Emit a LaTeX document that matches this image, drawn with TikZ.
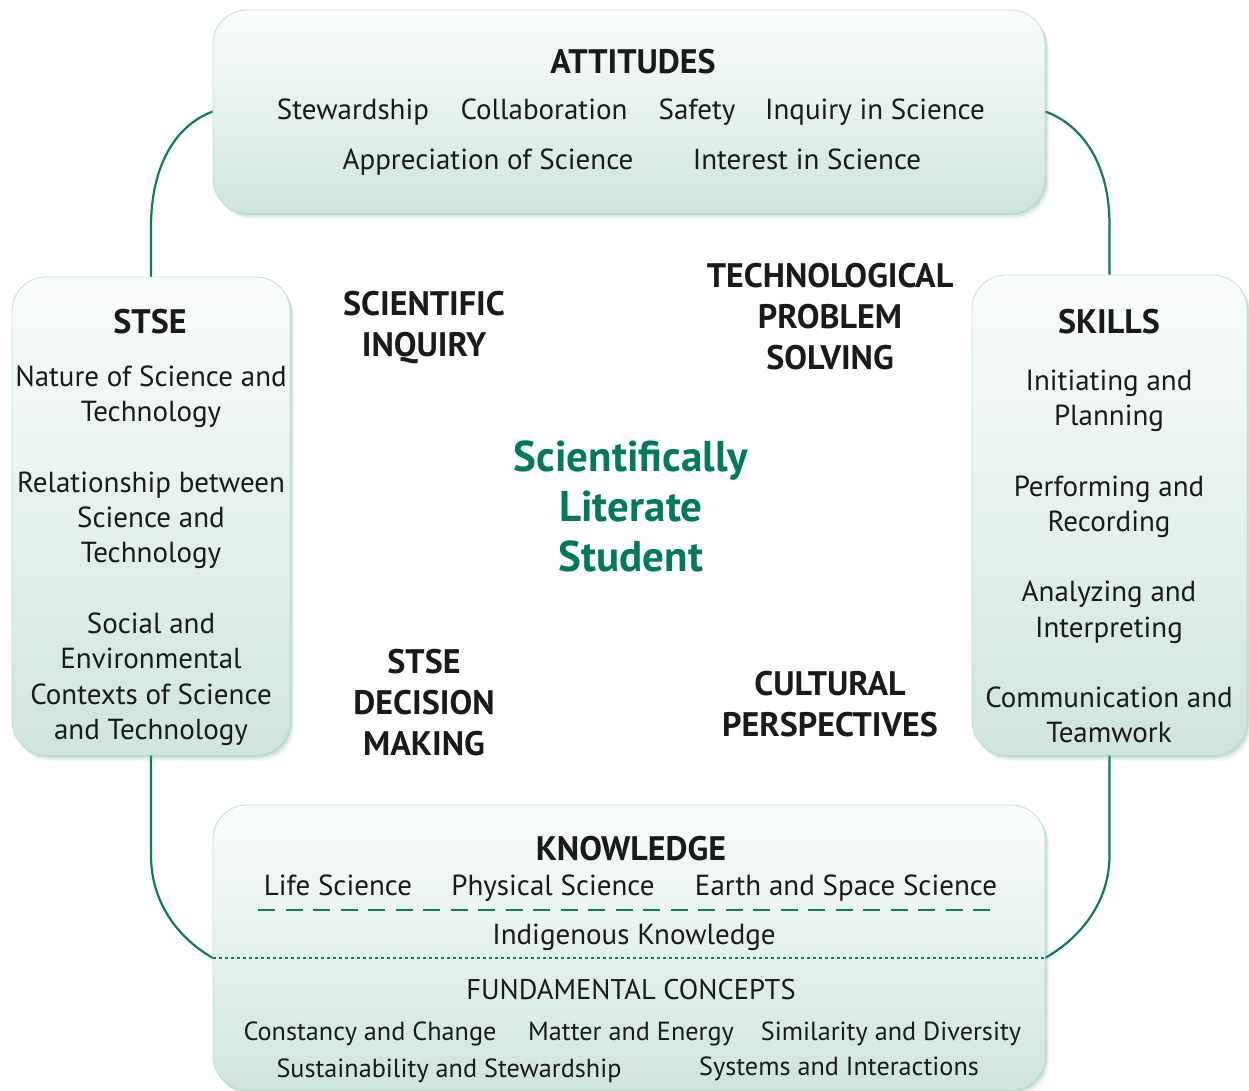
\documentclass[tikz,border=0pt]{standalone}
\usepackage{fontspec}
\setmainfont{PT Sans}
\usetikzlibrary{calc}
\definecolor{lineg}{HTML}{0B7D62}
\definecolor{txtg}{HTML}{007A5A}
\definecolor{txt}{HTML}{1A1A1A}
\definecolor{boxtop}{HTML}{FAFCFB}
\definecolor{boxbot}{HTML}{CFE5DE}
\definecolor{boxedge}{HTML}{C2E0D7}
\definecolor{shade}{HTML}{4FA88F}
\begin{document}
\begin{tikzpicture}[x=1pt,y=-1pt,
  box/.style={rectangle, rounded corners=34pt, draw=boxedge, line width=0.8pt,
    top color=boxtop, bottom color=boxbot, inner sep=0pt,
    preaction={fill=shade, opacity=0.22, transform canvas={shift={(1.5pt,-2pt)}}},
    preaction={fill=shade, opacity=0.14, transform canvas={shift={(3pt,-4pt)}}},
    preaction={fill=shade, opacity=0.08, transform canvas={shift={(4.5pt,-6pt)}}}},
  loopline/.style={draw=lineg, line width=2.2pt},
  t/.style={anchor=base, inner sep=0pt, text=txt, font=\fontsize{29}{34}\selectfont},
  ts/.style={t, font=\fontsize{26.2}{31}\selectfont},
  h/.style={anchor=base, inner sep=0pt, text=txt, font=\bfseries\fontsize{34}{38}\selectfont},
  ctr/.style={anchor=base, inner sep=0pt, text=txtg, font=\bfseries\fontsize{43}{50}\selectfont}]
\useasboundingbox (0,0) rectangle (1249,1091);
\fill[white] (0,0) rectangle (1249,1091);

\path (629,111.5) coordinate (topc) (151,516) coordinate (stsec)
      (1109.5,515) coordinate (skillc) (629,947.5) coordinate (knowc);
\path (213,958) coordinate (kl) (1045,958) coordinate (kr);

% invisible anchors of the boxes for the loop
\node[minimum width=832pt, minimum height=203pt, inner sep=0pt] (top) at (topc) {};
\node[minimum width=278pt, minimum height=478pt, inner sep=0pt] (stse) at (stsec) {};
\node[minimum width=275pt, minimum height=480pt, inner sep=0pt] (skills) at (skillc) {};
\node[minimum width=832pt, minimum height=285pt, inner sep=0pt] (know) at (knowc) {};

% loop connectors
\draw[loopline] (top.west) .. controls +(-38,14) and +(0,-60) .. ($(stse.north)+(0,-50)$) -- (stse.north);
\draw[loopline] (top.east) .. controls +(38,14) and +(0,-60) .. ($(skills.north)+(0,-50)$) -- (skills.north);
\draw[loopline] (stse.south) -- ++(0,100) .. controls +(0,50) and +(-32,-18) .. (kl);
\draw[loopline] (skills.south) -- ++(0,100) .. controls +(0,50) and +(32,-18) .. (kr);

% visible boxes
\node[box, minimum width=832pt, minimum height=203pt] (topbox) at (topc) {};
\node[box, minimum width=278pt, minimum height=478pt] (stsebox) at (stsec) {};
\node[box, minimum width=275pt, minimum height=480pt] (skillsbox) at (skillc) {};
\node[box, minimum width=832pt, minimum height=285pt] (knowbox) at (knowc) {};

% dividers in knowledge box
\path (258,910) coordinate (dl) (998,910) coordinate (dr);
\draw[lineg, line width=1.4pt, dash pattern=on 17pt off 10.5pt] (dl) -- (dr);
\draw[lineg, line width=1.1pt, dash pattern=on 3pt off 3pt] (kl) -- (kr);

% ATTITUDES
\node[h] (att) at (633,74) {ATTITUDES};
\node[t] (a1) at (353,120) {Stewardship};
\node[t] (a2) at (544,120) {Collaboration};
\node[t] (a3) at (697,120) {Safety};
\node[t] (a4) at (875,120) {Inquiry in Science};
\node[t] (a5) at (488,170) {Appreciation of Science};
\node[t] (a6) at (807,170) {Interest in Science};

% STSE
\node[h] (stseh) at (150,333) {STSE};
\node[t] (s1) at (151,386) {Nature of Science and};
\node[t] (s2) at (151,421) {Technology};
\node[t] (s3) at (151,492) {Relationship between};
\node[t] (s4) at (151,527) {Science and};
\node[t] (s5) at (151,562) {Technology};
\node[t] (s6) at (151,633) {Social and};
\node[t] (s7) at (151,668) {Environmental};
\node[t] (s8) at (151,704) {Contexts of Science};
\node[t] (s9) at (151,739) {and Technology};

% SKILLS
\node[h] (skh) at (1109,333) {SKILLS};
\node[t] (k1) at (1109,390) {Initiating and};
\node[t] (k2) at (1109,425) {Planning};
\node[t] (k3) at (1109,496) {Performing and};
\node[t] (k4) at (1109,531) {Recording};
\node[t] (k5) at (1109,601) {Analyzing and};
\node[t] (k6) at (1109,637) {Interpreting};
\node[t] (k7) at (1109,707) {Communication and};
\node[t] (k8) at (1109,742) {Teamwork};

% middle labels
\node[h] (m1) at (424,315) {SCIENTIFIC};
\node[h] (m2) at (424,356) {INQUIRY};
\node[h] (m3) at (830,287) {TECHNOLOGICAL};
\node[h] (m4) at (830,328) {PROBLEM};
\node[h] (m5) at (830,369) {SOLVING};
\node[h] (m6) at (424,673) {STSE};
\node[h] (m7) at (424,714) {DECISION};
\node[h] (m8) at (424,755) {MAKING};
\node[h] (m9) at (830,695) {CULTURAL};
\node[h] (m10) at (830,736) {PERSPECTIVES};

% centre
\node[ctr] (c1) at (631,471) {Scientifically};
\node[ctr] (c2) at (631,521) {Literate};
\node[ctr] (c3) at (631,571) {Student};

% KNOWLEDGE
\node[h] (kh) at (631,860) {KNOWLEDGE};
\node[t] (n1) at (338,895) {Life Science};
\node[t] (n2) at (553,895) {Physical Science};
\node[t] (n3) at (846,895) {Earth and Space Science};
\node[t] (n4) at (634,944) {Indigenous Knowledge};
\node[ts, font=\fontsize{28.5}{33}\selectfont] (f0) at (631,999) {FUNDAMENTAL CONCEPTS};
\node[ts] (f1) at (370,1040) {Constancy and Change};
\node[ts] (f2) at (631,1040) {Matter and Energy};
\node[ts] (f3) at (891,1040) {Similarity and Diversity};
\node[ts] (f4) at (449,1077) {Sustainability and Stewardship};
\node[ts] (f5) at (839,1075) {Systems and Interactions};
\end{tikzpicture}
\end{document}
